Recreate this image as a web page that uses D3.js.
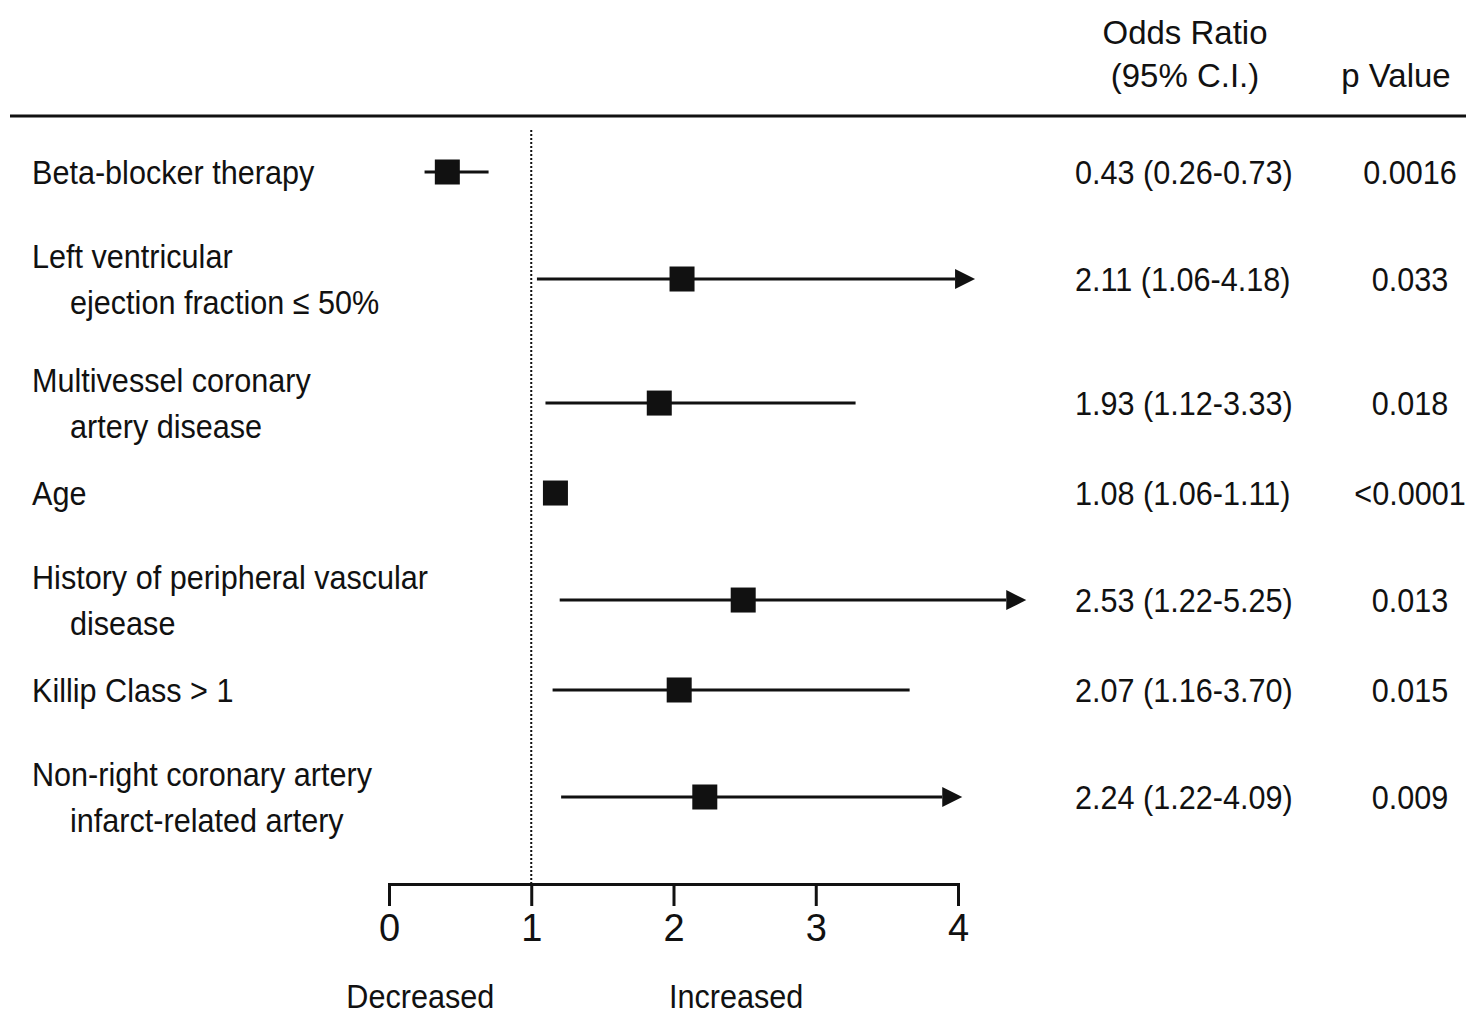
<!DOCTYPE html>
<html lang="en">
<head>
<meta charset="UTF-8">
<script src="https://cdn.jsdelivr.net/npm/d3@7"></script>
<title>Odds ratios</title>
<style>
    body { margin: 0; background: white; }
    text { font-family: "Liberation Sans", Arial, Helvetica, sans-serif; fill: #111; }
</style>
</head>
<body>
<script>
    // row labels (each entry is the lines of one label)
    const rowLabels = [
        ["Beta-blocker therapy"],
        ["Left ventricular", "ejection fraction \u2264 50%"],
        ["Multivessel coronary", "artery disease"],
        ["Age"],
        ["History of peripheral vascular", "disease"],
        ["Killip Class > 1"],
        ["Non-right coronary artery", "infarct-related artery"]
    ];
    const orText = ["0.43 (0.26-0.73)", "2.11 (1.06-4.18)", "1.93 (1.12-3.33)", "1.08 (1.06-1.11)",
                    "2.53 (1.22-5.25)", "2.07 (1.16-3.70)", "2.24 (1.22-4.09)"];
    const pText = ["0.0016", "0.033", "0.018", "<0.0001", "0.013", "0.015", "0.009"];
    // values as drawn in the picture
    const plotOR = [0.41, 2.06, 1.90, 1.17, 2.49, 2.04, 2.22];
    const plotLo = [0.25, 1.04, 1.10, 1.12, 1.20, 1.15, 1.21];
    const plotHi = [0.70, 4.12, 3.28, 1.20, 4.48, 3.66, 4.03];
    const arrowHi = [false, true, false, false, true, false, true];
    const ticks = [0, 1, 2, 3, 4];

    const W = 1466, H = 1016;
    const svg = d3.select("body").append("svg").attr("width", W).attr("height", H);

    const x = d3.scaleLinear().domain([0, 4]).range([389, 958]);
    const axisY = 884;

    // row centres from the number of label lines (more room above two-line labels)
    let pos = [0];
    for (let i = 1; i < rowLabels.length; i++) {
        pos.push(pos[i - 1] + rowLabels[i - 1].length * 0.36 + rowLabels[i].length * 0.72 + 0.46);
    }
    const y = d3.scaleLinear().domain([0, pos[pos.length - 1]]).range([172, 797]);
    const rowY = pos.map(p => y(p));
    const lineGap = 46;

    //text helper with a narrow face
    function addText(sel, tx, ty, str, anchor, size, sx) {
        sel.append("g").attr("transform", `translate(${tx},${ty})`)
            .append("text")
            .attr("transform", `scale(${sx},1)`)
            .attr("text-anchor", anchor)
            .attr("dominant-baseline", "central")
            .style("font-size", size + "px")
            .text(str);
    }

    // header
    addText(svg, 1185, 32, "Odds Ratio", "middle", 34, 0.97);
    addText(svg, 1185, 75, "(95% C.I.)", "middle", 34, 0.97);
    addText(svg, 1396, 75, "p Value", "middle", 34, 0.97);
    svg.append("line")
        .attr("x1", 10).attr("x2", W).attr("y1", 116).attr("y2", 116)
        .attr("stroke", "#111").attr("stroke-width", 3);

    // reference line at OR = 1
    svg.append("line")
        .attr("x1", x(1)).attr("x2", x(1)).attr("y1", 130).attr("y2", axisY)
        .attr("stroke", "#111").attr("stroke-width", 2)
        .attr("stroke-dasharray", "2,2");

    // labels and table columns
    rowLabels.forEach((lines, i) => {
        const cy = rowY[i];
        lines.forEach((ln, j) => {
            const ly = cy + (j - (lines.length - 1) / 2) * lineGap;
            addText(svg, j === 0 ? 32 : 70, ly, ln, "start", 34, 0.9);
        });
        addText(svg, 1075, cy, orText[i], "start", 34, 0.9);
        addText(svg, 1410, cy, pText[i], "middle", 34, 0.9);
    });

    // confidence interval lines
    const rows = plotOR.map((d, i) => ({ or: d, lo: plotLo[i], hi: plotHi[i], arrow: arrowHi[i], y: rowY[i] }));
    const head = 20;
    svg.selectAll(".ci").data(rows).enter().append("line")
        .attr("x1", d => x(d.lo))
        .attr("x2", d => d.arrow ? x(d.hi) - head : x(d.hi))
        .attr("y1", d => d.y).attr("y2", d => d.y)
        .attr("stroke", "#111").attr("stroke-width", 3);
    svg.selectAll(".arrow").data(rows.filter(d => d.arrow)).enter().append("path")
        .attr("d", d => `M${x(d.hi)},${d.y}L${x(d.hi) - head},${d.y - 10}L${x(d.hi) - head},${d.y + 10}Z`)
        .attr("fill", "#111");
    const sq = 25;
    svg.selectAll(".pt").data(rows).enter().append("rect")
        .attr("x", d => x(d.or) - sq / 2)
        .attr("y", d => d.y - sq / 2)
        .attr("width", sq).attr("height", sq)
        .attr("fill", "#111");

    // axis
    const axis = svg.append("g")
        .attr("transform", `translate(0,${axisY})`)
        .call(d3.axisBottom(x).tickValues(ticks).tickFormat(d3.format("d"))
            .tickSize(22).tickSizeOuter(22).tickPadding(8));
    axis.selectAll("path, line").attr("stroke", "#111").attr("stroke-width", 3);
    axis.selectAll("text")
        .style("font-size", "38px")
        .style("font-family", "'Liberation Sans', Arial, sans-serif")
        .attr("fill", "#111");

    addText(svg, x(0.22), 996, "Decreased", "middle", 34, 0.9);
    addText(svg, x(2.44), 996, "Increased", "middle", 34, 0.9);
</script>
</body>
</html>
